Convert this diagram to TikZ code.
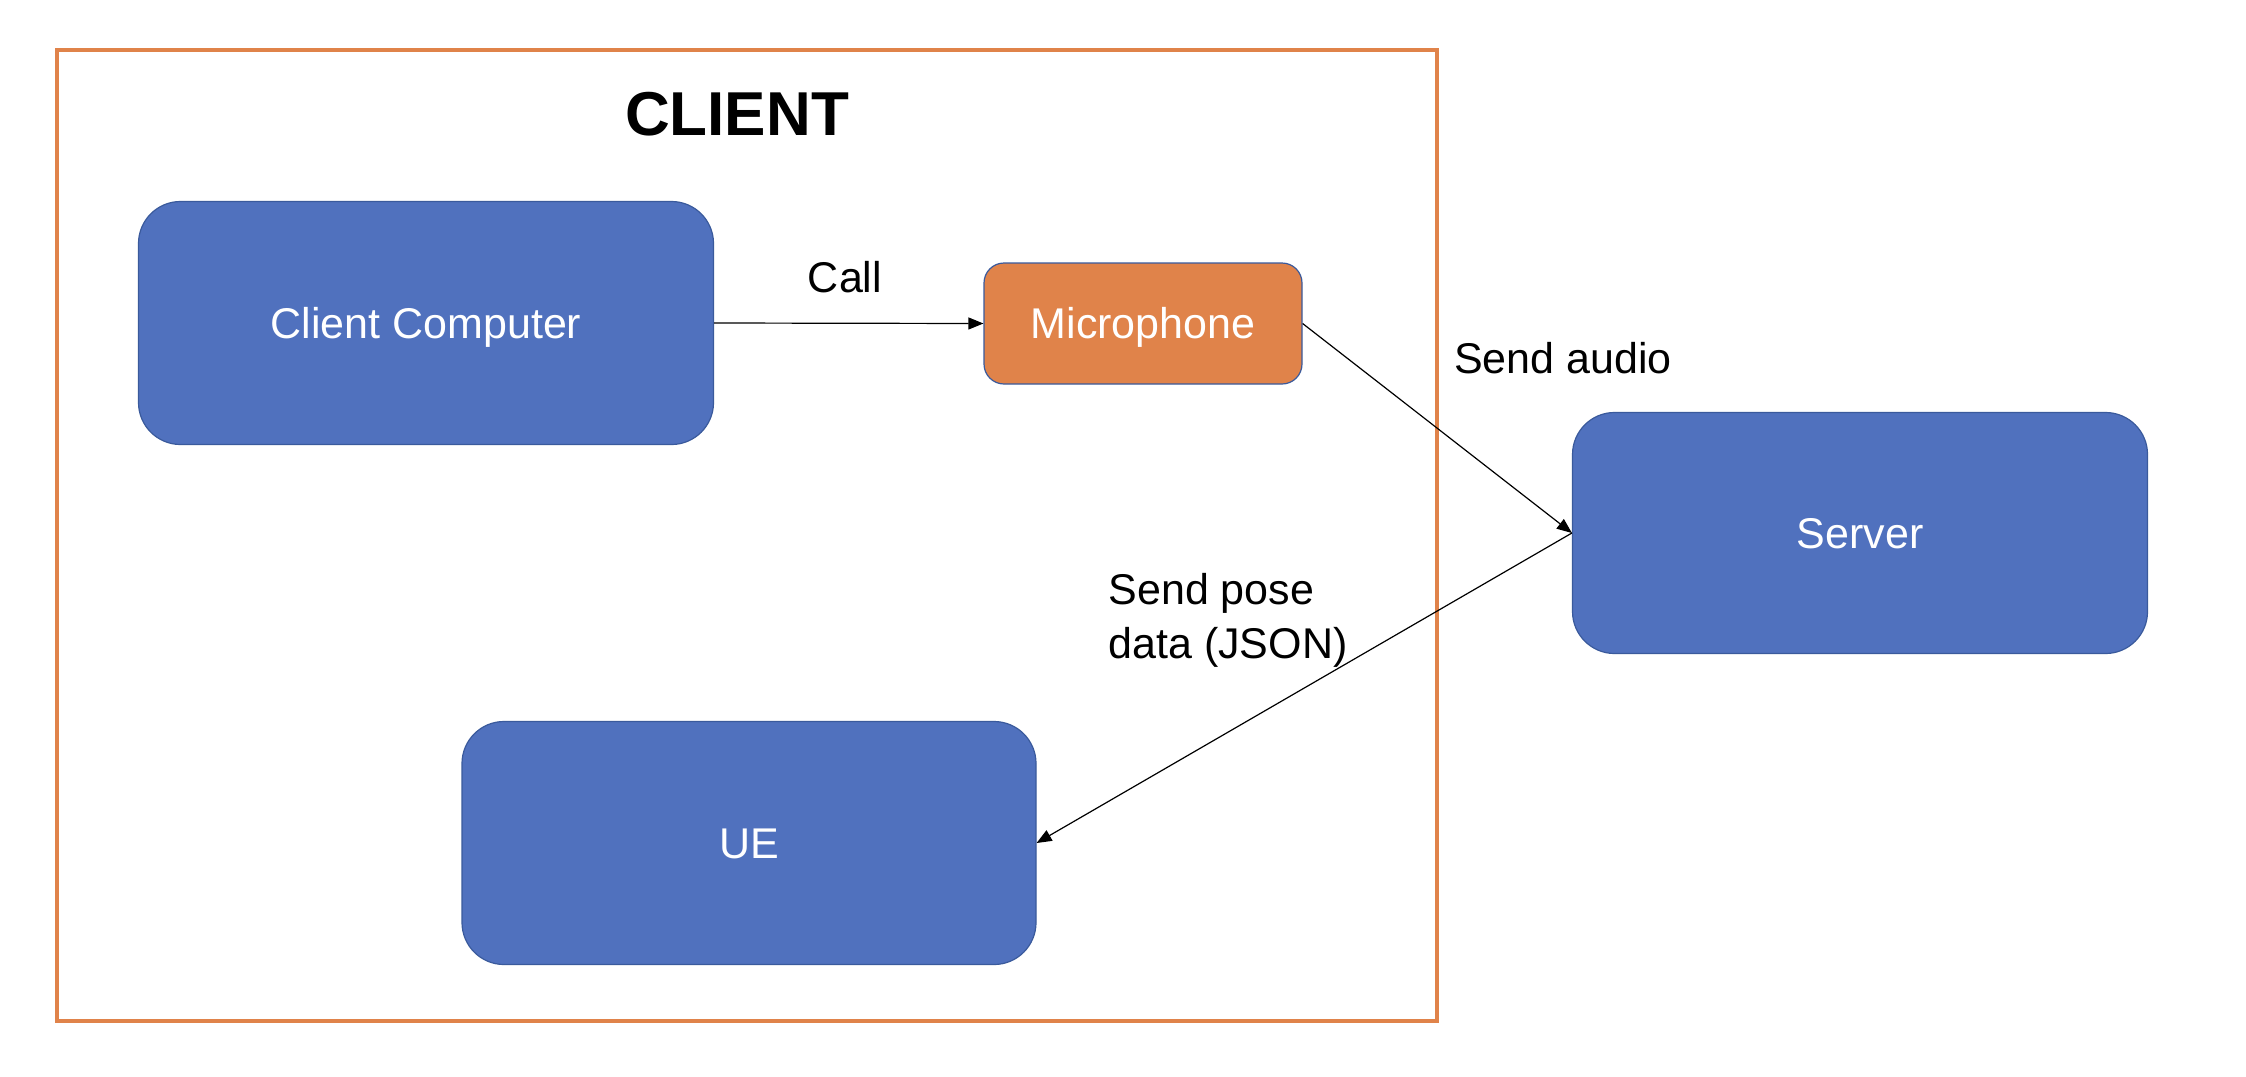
\documentclass[tikz,border=0pt]{standalone}
\usepackage{fontspec}
\setmainfont{Liberation Sans}
\usetikzlibrary{arrows.meta}
\definecolor{boxblue}{HTML}{5071BE}
\definecolor{boxedge}{HTML}{3A5A9C}
\definecolor{orng}{HTML}{E0834A}
\tikzset{
  blockbox/.style={draw=boxedge, line width=0.6pt, fill=boxblue, rounded corners=21pt,
    text=white, font=\fontsize{21.5pt}{26pt}\selectfont, inner sep=0pt,
    text height=15.4pt, text depth=0pt},
  micbox/.style={draw=boxedge, line width=0.6pt, fill=orng, rounded corners=10pt,
    text=white, font=\fontsize{21.5pt}{26pt}\selectfont, inner sep=0pt,
    text height=15.4pt, text depth=0pt},
  lbl/.style={text=black, font=\fontsize{21.5pt}{27pt}\selectfont, inner sep=0pt},
  conn/.style={draw=black, line width=0.6pt, -{Triangle[length=7.5pt,width=6pt]}},
  frame/.style={draw=orng, line width=1.6pt}
}
\begin{document}
\begin{tikzpicture}[x=0.5pt, y=-0.5pt]
\useasboundingbox (0,0) rectangle (2246,1076);
\fill[white] (0,0) rectangle (2246,1076);
\draw[frame] (57,50) rectangle (1437,1021);
\node[font=\bfseries\fontsize{31pt}{36pt}\selectfont, inner sep=0pt] (title) at (737,114) {CLIENT};
\node[blockbox, minimum width=287.5pt, minimum height=121.5pt] (cc) at (426,323) {Client Computer};
\node[micbox, minimum width=159pt, minimum height=60.5pt] (mic) at (1143,323.5) {Microphone};
\node[blockbox, minimum width=287.5pt, minimum height=120.5pt] (server) at (1860,533) {Server};
\node[blockbox, minimum width=287pt, minimum height=121.5pt] (ue) at (749,843) {UE};
\draw[conn] (cc.east) -- (mic.west);
\draw[conn] (mic.east) -- (server.west);
\draw[conn] (server.west) -- (ue.east);
\node[lbl] (lcall) at (845,277) {Call};
\node[lbl] (laudio) at (1563,358) {Send audio};
\node[lbl, align=left] (lpose) at (1228,620) {Send pose\\data (JSON)};
\end{tikzpicture}
\end{document}
